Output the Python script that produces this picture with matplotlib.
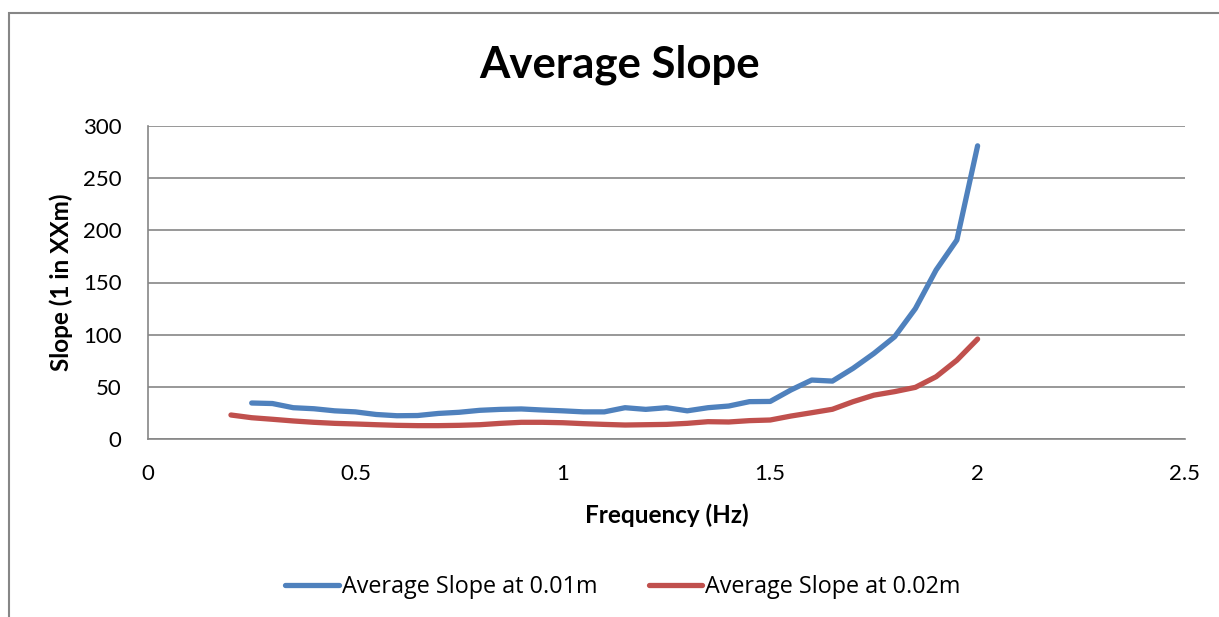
import numpy as np
import matplotlib
matplotlib.use('Agg')
import matplotlib.pyplot as plt
from matplotlib.lines import Line2D
from matplotlib.patches import Rectangle

plt.rcParams['font.family'] = ['Lato', 'DejaVu Sans']

# frequency (Hz) and average slope values
freq_001 = [0.25, 0.3, 0.35, 0.4, 0.45, 0.5, 0.55, 0.6, 0.65, 0.7, 0.75, 0.8,
            0.85, 0.9, 0.95, 1.0, 1.05, 1.1, 1.15, 1.2, 1.25, 1.3, 1.35, 1.4,
            1.45, 1.5, 1.55, 1.6, 1.65, 1.7, 1.75, 1.8, 1.85, 1.9, 1.95, 2.0]
slope_001 = [34.5, 34, 30, 29, 27, 26, 23.5, 22.3, 22.5, 24.5, 25.6, 27.5,
             28.4, 28.8, 27.8, 27, 26, 26, 30, 28.4, 30, 27, 30, 31.6,
             35.8, 36, 47, 56.5, 55.5, 67.8, 82, 98, 125, 162, 190.7, 281]

freq_002 = [0.2, 0.25, 0.3, 0.35, 0.4, 0.45, 0.5, 0.55, 0.6, 0.65, 0.7, 0.75,
            0.8, 0.85, 0.9, 0.95, 1.0, 1.05, 1.1, 1.15, 1.2, 1.25, 1.3, 1.35,
            1.4, 1.45, 1.5, 1.55, 1.6, 1.65, 1.7, 1.75, 1.8, 1.85, 1.9, 1.95, 2.0]
slope_002 = [23, 20.4, 18.9, 17.3, 16, 15, 14.4, 13.7, 13.1, 12.8, 12.8, 13.1,
             13.7, 15, 16, 16, 15.6, 14.7, 14, 13.4, 13.7, 14, 15, 16.6,
             16.3, 17.6, 18.2, 22, 25.2, 28.5, 35.8, 42, 45.4, 49.5, 59.7, 75.5, 95.8]

labels = ['Average Slope at 0.01m', 'Average Slope at 0.02m']
colors = ['#4F81BD', '#C0504D']

W, H = 1219, 617
fig = plt.figure(figsize=(W / 100, H / 100), dpi=100)

# outer chart border
fig.add_artist(Rectangle((9 / W, -0.1), 1.2, 1 - 13 / H + 0.1, transform=fig.transFigure,
                         fill=False, edgecolor='#868686', linewidth=1.5))

ax = fig.add_axes([148 / W, 1 - 439 / H, (1185 - 148) / W, (439 - 126) / H])
ax.plot(freq_001, slope_001, color=colors[0], lw=3.8, solid_capstyle='round',
        solid_joinstyle='round')
ax.plot(freq_002, slope_002, color=colors[1], lw=3.8, solid_capstyle='round',
        solid_joinstyle='round')

ax.set_xlim(0, 2.5)
ax.set_ylim(0, 300)
ax.set_xticks([0, 0.5, 1, 1.5, 2, 2.5])
ax.set_xticklabels(['0', '0.5', '1', '1.5', '2', '2.5'])
ax.set_yticks(range(0, 301, 50))
ax.tick_params(length=0, labelsize=16, pad=18)
ax.tick_params(axis='y', pad=19)
ax.grid(axis='y', color='#868686', lw=1.2)
ax.set_axisbelow(True)
for side in ['top', 'right']:
    ax.spines[side].set_visible(False)
for side in ['left', 'bottom']:
    ax.spines[side].set_color('#868686')
    ax.spines[side].set_linewidth(1.2)

ax.set_xlabel('Frequency (Hz)', fontsize=17.5, fontweight='bold', labelpad=14)
ax.set_ylabel('Slope (1 in XXm)', fontsize=17.5, fontweight='bold', labelpad=7)
fig.text(620 / W, 1 - 65 / H, 'Average Slope', fontsize=31.5, fontweight='bold',
         ha='center', va='center')

handles = [Line2D([], [], color=c, lw=3.8, solid_capstyle='round') for c in colors]
fig.legend(handles, labels, loc='center', bbox_to_anchor=(623 / W, 1 - 587 / H),
           ncol=2, frameon=False, prop={'family': 'Open Sans', 'size': 16.8},
           handlelength=2.3, handletextpad=0.13, columnspacing=2.2)

fig.savefig('out.png', dpi=100)
